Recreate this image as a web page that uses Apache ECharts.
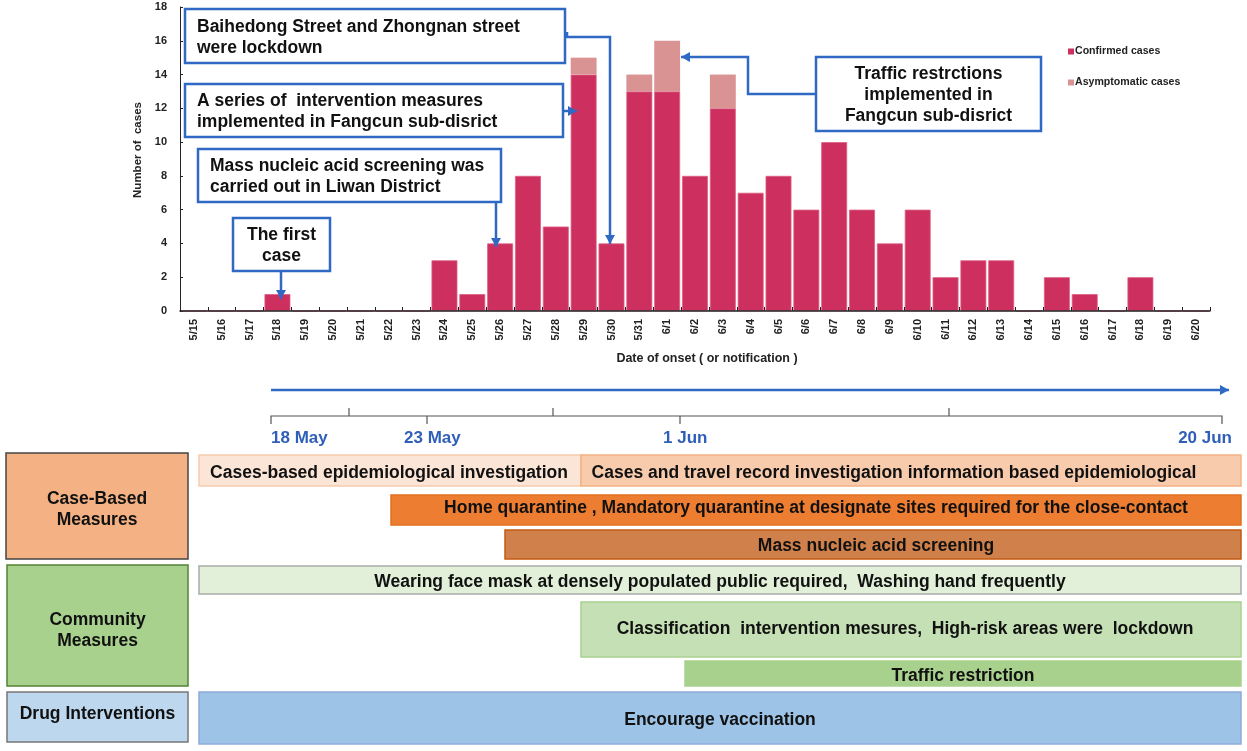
<!DOCTYPE html>
<html>
<head>
<meta charset="utf-8">
<style>
  html, body { margin: 0; padding: 0; background: #fff; }
  #main { width: 1247px; height: 751px; }
</style>
<script src="https://cdn.jsdelivr.net/npm/echarts@6/dist/echarts.min.js"></script>
</head>
<body>
<div id="main"></div>
<script>
var categories = ['5/15','5/16','5/17','5/18','5/19','5/20','5/21','5/22','5/23','5/24','5/25','5/26','5/27','5/28','5/29','5/30','5/31',
  '6/1','6/2','6/3','6/4','6/5','6/6','6/7','6/8','6/9','6/10','6/11','6/12','6/13','6/14','6/15','6/16','6/17','6/18','6/19','6/20'];
var confirmed = [0,0,0,1,0,0,0,0,0,3,1,4,8,5,14,4,13,13,8,12,7,8,6,10,6,4,6,2,3,3,0,2,1,0,2,0,0];
var asymptomatic = [0,0,0,0,0,0,0,0,0,0,0,0,0,0,1,0,1,3,0,2,0,0,0,0,0,0,0,0,0,0,0,0,0,0,0,0,0];

var FONT = '"Liberation Sans", Arial, sans-serif';
var BLUE = '#2F69C4';

var g = [];

// white box with a blue frame
function callout(x, y, w, h, text, align) {
  g.push({
    type: 'rect', z: 20,
    shape: { x: x, y: y, width: w, height: h },
    style: { fill: '#fff', stroke: BLUE, lineWidth: 2.5 }
  });
  g.push({
    type: 'text', z: 21,
    x: align == 'center' ? x + w / 2 : x + 12,
    y: y + h / 2 + 1.5,
    style: { text: text, font: 'bold 17.5px ' + FONT, fill: '#111', align: align || 'left', verticalAlign: 'middle', lineHeight: 21 }
  });
}

function arrow(points, dir) {
  var p = points[points.length - 1], s = 5, l = 9, head;
  if (dir == 'down') head = [[p[0], p[1]], [p[0] - s, p[1] - l], [p[0] + s, p[1] - l]];
  if (dir == 'right') head = [[p[0], p[1]], [p[0] - l, p[1] - s], [p[0] - l, p[1] + s]];
  if (dir == 'left') head = [[p[0], p[1]], [p[0] + l, p[1] - s], [p[0] + l, p[1] + s]];
  g.push({ type: 'polyline', z: 19, shape: { points: points }, style: { stroke: BLUE, lineWidth: 2.5, fill: null } });
  g.push({ type: 'polygon', z: 19, shape: { points: head }, style: { fill: BLUE } });
}

// dx, dy nudge the text away from the middle of the block
function block(x0, x1, y0, y1, text, fill, stroke, dx, dy) {
  g.push({
    type: 'rect',
    shape: { x: x0, y: y0, width: x1 - x0, height: y1 - y0 },
    style: { fill: fill, stroke: stroke, lineWidth: 1.5 }
  });
  g.push({
    type: 'text',
    x: (x0 + x1) / 2 + (dx || 0), y: (y0 + y1) / 2 + (dy || 0) + 1.5,
    style: { text: text, font: 'bold 17.5px ' + FONT, fill: '#111', align: 'center', verticalAlign: 'middle', lineHeight: 21 }
  });
}

callout(185, 9, 380, 54, 'Baihedong Street and Zhongnan street\nwere lockdown');
callout(185, 84, 378, 53, 'A series of  intervention measures\nimplemented in Fangcun sub-disrict');
callout(198, 149, 303, 53, 'Mass nucleic acid screening was\ncarried out in Liwan District');
callout(233, 218, 97, 53, 'The first\ncase', 'center');
callout(816, 57, 225, 74, 'Traffic restrctions\nimplemented in\nFangcun sub-disrict', 'center');

arrow([[281, 271], [281, 299]], 'down');
arrow([[496, 202], [496, 247]], 'down');
arrow([[564, 111], [577, 111]], 'right');
arrow([[567, 32], [567, 37], [610, 37], [610, 244]], 'down');
arrow([[816, 94], [748, 94], [748, 57], [681, 57]], 'left');

// timeline above the measures
arrow([[271, 390], [1229, 390]], 'right');
g.push({ type: 'polyline', shape: { points: [[271, 424], [271, 416], [1222, 416], [1222, 424]] }, style: { stroke: '#555', lineWidth: 1.2, fill: null } });
[427, 680].forEach(function (x) {
  g.push({ type: 'line', shape: { x1: x, y1: 416, x2: x, y2: 424 }, style: { stroke: '#555', lineWidth: 1.2 } });
});
[349, 553, 949].forEach(function (x) {
  g.push({ type: 'line', shape: { x1: x, y1: 416, x2: x, y2: 408 }, style: { stroke: '#555', lineWidth: 1.2 } });
});
[[271, '18 May', 'left'], [404, '23 May', 'left'], [663, '1 Jun', 'left'], [1232, '20 Jun', 'right']].forEach(function (d) {
  g.push({ type: 'text', x: d[0], y: 438, style: { text: d[1], font: 'bold 17px ' + FONT, fill: '#2F5FB8', align: d[2], verticalAlign: 'middle' } });
});

// row headers
block(6, 188, 453, 559, 'Case-Based\nMeasures', '#F4B183', '#444', 0, 2);
block(7, 188, 565, 686, 'Community\nMeasures', '#A9D18E', '#548235', 0, 4);
block(7, 188, 692, 742, 'Drug Interventions', '#BDD7EE', '#777', 0, -4);

// measure bars
block(199, 581, 455, 486, 'Cases-based epidemiological investigation', '#FBE5D6', '#F8CBAD', -1, 1);
block(581, 1241, 455, 486, 'Cases and travel record investigation information based epidemiological', '#F8CBAD', '#F4B183', -17, 1);
block(391, 1241, 495, 525, 'Home quarantine , Mandatory quarantine at designate sites required for the close-contact', '#ED7D31', '#E2701F', 0, -3);
block(505, 1241, 530, 559, 'Mass nucleic acid screening', '#D0804A', '#C55A11', 3, 0);
block(199, 1241, 566, 594, 'Wearing face mask at densely populated public required,  Washing hand frequently', '#E2F0D9', '#AAAAAA', 0, 1);
block(581, 1241, 602, 657, 'Classification  intervention mesures,  High-risk areas were  lockdown', '#C5E0B4', '#A9D18E', -6, -2);
block(685, 1241, 661, 686, 'Traffic restriction', '#A9D18E', '#A9D18E', 0, 1);
block(199, 1241, 692, 744, 'Encourage vaccination', '#9DC3E6', '#8FAADC', 0, 1);

var myChart = echarts.init(document.getElementById('main'));
var option = {
  animation: false,
  backgroundColor: '#fff',
  textStyle: { fontFamily: FONT },
  grid: { left: 180, right: 37, top: 7, height: 304 },
  legend: {
    left: 1063, top: 41, orient: 'vertical', itemGap: 20,
    itemWidth: 6, itemHeight: 6, icon: 'rect',
    itemStyle: { borderWidth: 0 },
    textStyle: { fontSize: 10.6, fontWeight: 'bold', color: '#222', padding: [0, 0, 0, -4] },
    data: ['Confirmed cases', 'Asymptomatic cases']
  },
  xAxis: {
    type: 'category',
    data: categories,
    name: 'Date of onset ( or notification )',
    nameLocation: 'middle',
    nameGap: 41,
    nameTextStyle: { fontSize: 12.5, fontWeight: 'bold', color: '#222', padding: [0, 0, 0, 24] },
    axisLine: { lineStyle: { color: '#222', width: 1.5 } },
    axisTick: { show: true, interval: 0, inside: true, length: 4, lineStyle: { color: '#222' } },
    axisLabel: { rotate: 90, interval: 0, fontSize: 11, fontWeight: 'bold', color: '#222', margin: 8 },
    z: 5
  },
  yAxis: {
    type: 'value',
    min: 0, max: 18, interval: 2,
    name: 'Number of  cases',
    nameLocation: 'middle',
    nameGap: 36,
    nameTextStyle: { fontSize: 11.5, fontWeight: 'bold', color: '#222', padding: [0, 0, 0, 18] },
    splitLine: { show: false },
    axisLine: { show: true, lineStyle: { color: '#222', width: 1 } },
    axisTick: { show: true, inside: true, length: 3, lineStyle: { color: '#222' } },
    axisLabel: { fontSize: 11, fontWeight: 'bold', color: '#222', margin: 13 }
  },
  series: [
    {
      name: 'Confirmed cases', type: 'bar', stack: 'cases',
      barCategoryGap: '7%',
      itemStyle: { color: '#CD2F5F', borderColor: '#DC5F84', borderWidth: 0.8 },
      data: confirmed
    },
    {
      name: 'Asymptomatic cases', type: 'bar', stack: 'cases',
      itemStyle: { color: '#DA9393' },
      data: asymptomatic
    }
  ],
  graphic: { elements: g }
};
myChart.setOption(option);
</script>
</body>
</html>
